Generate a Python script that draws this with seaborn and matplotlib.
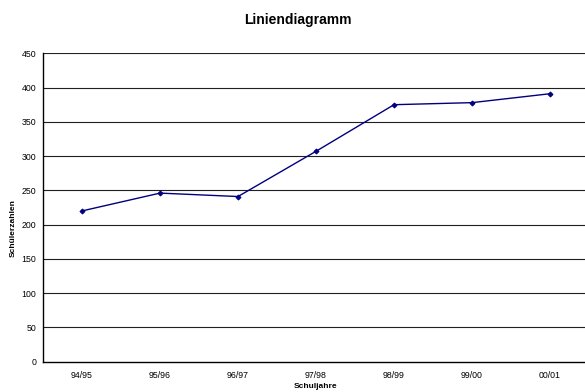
import matplotlib
matplotlib.use("Agg")
import matplotlib.pyplot as plt
from matplotlib.ticker import FixedLocator
import seaborn as sns
import pandas as pd
import numpy as np

schuljahre = ["94/95", "95/96", "96/97", "97/98", "98/99", "99/00", "00/01"]
schuelerzahlen = [220, 246, 241, 307, 375, 378, 391]
y_ticks = [0, 50, 100, 150, 200, 250, 300, 350, 400, 450]

sns.set_theme(style="white")
plt.rcParams["font.family"] = ["Liberation Sans", "DejaVu Sans"]
plt.rcParams["text.color"] = "black"
plt.rcParams["xtick.color"] = "black"
plt.rcParams["ytick.color"] = "black"
plt.rcParams["xtick.labelcolor"] = "black"
plt.rcParams["ytick.labelcolor"] = "black"

W, H = 585, 392
fig = plt.figure(figsize=(W / 100, H / 100), dpi=100)
left, right, top, bottom = 43, 589, 53.3, 361.7
ax = fig.add_axes([left / W, 1 - bottom / H, (right - left) / W, (bottom - top) / H])

df = pd.DataFrame({"pos": np.arange(len(schuljahre)), "wert": schuelerzahlen})
sns.lineplot(data=df, x="pos", y="wert", ax=ax, color="#000080", linewidth=1.0,
             marker="D", markersize=2.5, markeredgecolor="#000080", sort=False)

ax.set_xlim(-0.5, len(schuljahre) - 0.5)
ax.set_ylim(0, 450)
ax.set_yticks(y_ticks)
ax.set_yticklabels([str(v) for v in y_ticks], fontsize=6.3)
ax.set_xticks(np.arange(len(schuljahre)))
ax.set_xticklabels(schuljahre, fontsize=6.3)
ax.xaxis.set_minor_locator(FixedLocator(np.arange(len(schuljahre) + 1) - 0.5))
ax.tick_params(axis="x", which="major", length=0, pad=7)
ax.tick_params(axis="x", which="minor", length=4, width=0.8, direction="inout", color="black")
ax.tick_params(axis="y", which="major", length=3, width=0.8, direction="out", color="black", pad=2)

for v in y_ticks[1:]:
    ax.axhline(v, color="#202020", linewidth=0.8, zorder=0)

for s in ["top", "right"]:
    ax.spines[s].set_visible(False)
for s in ["left", "bottom"]:
    ax.spines[s].set_color("black")
    ax.spines[s].set_linewidth(1.0)

ax.set_xlabel("")
ax.set_ylabel("")
fig.text(298 / W, 1 - 20 / H, "Liniendiagramm", ha="center", va="center",
         fontsize=10, fontweight="bold", color="black")
fig.text(316 / W, 1 - 387 / H, "Schuljahre", ha="center", va="center",
         fontsize=6, fontweight="bold", color="black")
fig.text(13 / W, 1 - 228 / H, "Schülerzahlen", ha="center", va="center",
         rotation=90, fontsize=6, fontweight="bold", color="black")

fig.savefig("out.png", dpi=100)
